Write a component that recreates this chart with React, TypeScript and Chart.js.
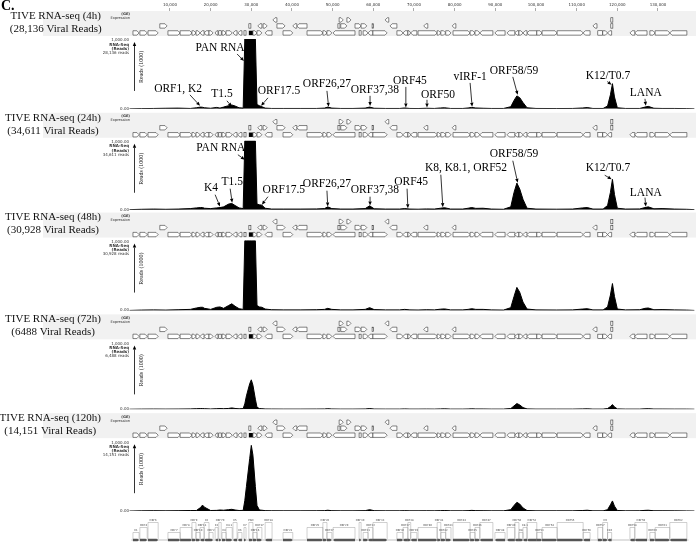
import React, { useEffect, useRef } from 'react';
import { Chart, registerables } from 'chart.js';

Chart.register(...registerables);

// ---------- data ----------
const GENOME_MAX = 139000;
const X_TICKS = [10000, 20000, 30000, 40000, 50000, 60000, 70000, 80000, 90000, 100000, 110000, 120000, 130000];

// genome positions (kb) shared by all coverage tracks
const POS_KB = [
  0, 3, 6, 9, 12, 15, 16.5, 17.5, 18.0, 18.5,
  20, 21.5, 22.3, 23.2, 24.4, 25.2, 26.0, 27.0, 28.0, 28.4,
  28.8, 29.6, 30.0, 30.4, 31.0, 31.4, 32.0, 32.6, 33.4, 35,
  38, 42, 46, 48.0, 48.8, 49.8, 52, 55, 58.0, 59.1,
  60.2, 63, 66.5, 67.7, 69, 71, 73.1, 75, 76.5, 77.5,
  79, 82, 83.3, 84.2, 85.2, 87, 89, 92, 93.8, 94.6,
  95.3, 96.0, 96.8, 97.8, 100, 105, 109, 111.5, 112.6, 114,
  116.5, 117.6, 118.3, 118.8, 119.3, 120.0, 122, 125.5, 126.8, 127.6,
  129, 131, 134, 137, 139,
];

// reads (display capped at 1,000)
const READS_4H = [
  0, 3, 5, 8, 10, 5, 15, 25, 22, 15,
  8, 20, 10, 25, 45, 55, 40, 15, 10, 1000,
  1000, 1000, 1000, 1000, 1000, 60, 45, 30, 10, 5,
  5, 5, 5, 10, 25, 10, 5, 5, 10, 25,
  8, 5, 5, 12, 5, 4, 8, 5, 12, 15,
  5, 5, 12, 20, 12, 8, 5, 5, 30, 120,
  185, 160, 90, 15, 5, 4, 5, 12, 18, 5,
  5, 40, 200, 360, 170, 15, 5, 5, 25, 35,
  8, 5, 5, 3, 0,
];
const READS_24H = [
  0, 5, 8, 5, 8, 15, 25, 30, 30, 20,
  15, 25, 30, 40, 80, 90, 60, 25, 15, 1000,
  1000, 1000, 1000, 1000, 1000, 80, 70, 65, 20, 8,
  8, 8, 10, 15, 40, 15, 8, 8, 15, 55,
  12, 8, 8, 15, 8, 6, 10, 8, 20, 28,
  8, 8, 20, 30, 18, 20, 8, 5, 40, 250,
  385, 300, 150, 20, 8, 6, 8, 25, 30, 8,
  8, 60, 250, 440, 220, 20, 8, 10, 30, 40,
  12, 15, 8, 5, 0,
];
const READS_48H = [
  0, 5, 8, 5, 10, 15, 35, 45, 45, 30,
  15, 45, 50, 30, 70, 95, 60, 25, 15, 1000,
  1000, 1000, 1000, 1000, 1000, 70, 50, 45, 20, 10,
  8, 8, 10, 15, 30, 15, 8, 8, 15, 40,
  12, 8, 8, 15, 8, 6, 10, 8, 18, 22,
  8, 8, 15, 25, 15, 15, 8, 5, 40, 200,
  330, 260, 120, 20, 8, 6, 8, 20, 25, 8,
  8, 50, 220, 385, 200, 20, 8, 10, 30, 35,
  10, 12, 8, 5, 0,
];
const READS_72H = [
  0, 2, 3, 2, 3, 5, 8, 10, 10, 8,
  4, 8, 10, 8, 12, 20, 12, 6, 10, 80,
  200, 380, 440, 360, 150, 30, 10, 8, 4, 3,
  2, 2, 3, 4, 8, 4, 2, 2, 4, 10,
  3, 2, 2, 5, 2, 2, 3, 2, 5, 6,
  2, 2, 4, 6, 4, 4, 2, 2, 10, 50,
  85, 65, 25, 5, 2, 2, 2, 5, 6, 2,
  2, 10, 40, 70, 35, 5, 2, 2, 6, 8,
  3, 3, 2, 2, 0,
];
const READS_120H = [
  0, 3, 5, 3, 5, 8, 8, 50, 85, 55,
  8, 10, 15, 12, 20, 25, 15, 8, 10, 150,
  350, 750, 940, 800, 350, 80, 15, 12, 6, 4,
  3, 3, 4, 6, 12, 5, 3, 3, 6, 20,
  5, 3, 3, 6, 3, 3, 4, 3, 6, 8,
  3, 3, 6, 10, 6, 5, 3, 3, 20, 80,
  125, 100, 45, 8, 3, 3, 3, 8, 12, 3,
  3, 20, 90, 145, 70, 8, 3, 4, 10, 12,
  4, 4, 3, 2, 0,
];

const PANEL_TITLES = ['TIVE RNA-seq (4h)', 'TIVE RNA-seq (24h)', 'TIVE RNA-seq (48h)', 'TIVE RNA-seq (72h)', 'TIVE RNA-seq (120h)'];
const PANEL_SUBTITLES = ['(28,136 Viral Reads)', '(34,611 Viral Reads)', '(30,928 Viral Reads)', '(6488 Viral Reads)', '(14,151 Viral Reads)'];
const PANEL_READS = ['28,136 reads', '34,611 reads', '30,928 reads', '6,488 reads', '14,151 reads'];
const PANEL_VALUES = [READS_4H, READS_24H, READS_48H, READS_72H, READS_120H];

// genes: [startKb, endKb, strand (1 fwd, -1 rev, 0 bar, 2 filled), row, name]
const GENES: [number, number, number, number, string][] = [
  [0.9, 2.4, 1, 0, 'K1'], [2.6, 4.4, 1, 0, 'ORF4'], [4.6, 7.1, 1, 0, 'ORF6'], [9.5, 12.5, 1, 0, 'ORF7'],
  [12.5, 15.4, 1, 0, 'ORF8'], [15.4, 16.4, 1, 0, 'ORF9'], [16.4, 17.4, 1, 0, 'ORF10'], [17.4, 18.4, -1, 0, 'ORF11'],
  [18.4, 19.6, -1, 0, 'K2'], [19.6, 20.6, 1, 0, 'ORF2'], [21.1, 21.8, -1, 0, 'K3'], [22.0, 22.6, 0, 0, 'ORF70'],
  [22.8, 23.8, 1, 0, 'K4'], [23.8, 25.3, 1, 0, 'K4.1'], [25.5, 26.5, -1, 0, 'K5'], [26.7, 27.7, -1, 0, 'K6'],
  [28.2, 28.7, 0, 0, 'K7'], [29.4, 30.4, 2, 0, 'PAN'], [30.4, 31.4, 1, 0, 'ORF16'], [31.4, 32.6, 1, 0, 'ORF17'],
  [33.4, 35.1, -1, 0, 'ORF18'], [37.8, 40.2, 1, 0, 'ORF21'], [43.7, 47.6, 1, 0, 'ORF25'], [47.6, 48.6, 1, 0, 'ORF26'],
  [48.6, 49.8, 1, 0, 'ORF27'], [50.1, 55.5, -1, 0, 'ORF29'], [56.5, 57.0, 0, 0, 'ORF30'], [57.5, 58.7, 1, 0, 'ORF31'],
  [58.7, 59.9, -1, 0, 'ORF32'], [59.9, 63.4, 1, 0, 'ORF33'], [65.8, 67.3, 1, 0, 'ORF36'], [67.3, 68.5, -1, 0, 'ORF37'],
  [68.5, 69.2, 1, 0, 'ORF38'], [69.2, 70.7, -1, 0, 'ORF39'], [71.0, 75.7, 1, 0, 'ORF40'], [75.7, 76.6, 1, 0, 'ORF41'],
  [76.6, 77.8, 1, 0, 'ORF42'], [77.8, 79.1, 1, 0, 'ORF43'], [79.6, 83.8, 1, 0, 'ORF44'], [83.8, 85.0, 1, 0, 'ORF45'],
  [85.0, 86.2, 1, 0, 'ORF46'], [86.2, 89.4, -1, 0, 'ORF47'], [89.9, 92.4, -1, 0, 'ORF48'], [92.9, 94.8, -1, 0, 'ORF49'],
  [94.8, 95.8, -1, 0, 'ORF50'], [95.8, 96.8, 1, 0, 'K8'], [96.8, 97.8, -1, 0, 'K8.1'], [97.8, 100.2, -1, 0, 'ORF52'],
  [100.2, 101.5, 1, 0, 'ORF53'], [101.5, 105.2, 1, 0, 'ORF54'], [105.2, 111.6, 1, 0, 'ORF55'], [111.6, 113.3, -1, 0, 'ORF56'],
  [115.2, 116.4, 0, 0, 'ORF57'], [116.4, 117.6, 1, 0, 'K9'], [117.6, 118.6, -1, 0, 'K10'], [123.1, 124.3, -1, 0, 'ORF58'],
  [124.3, 127.3, -1, 0, 'ORF59'], [128.0, 129.3, 1, 0, 'ORF60'], [129.3, 132.9, 1, 0, 'ORF61'], [132.9, 137.1, -1, 0, 'ORF62'],
  [7.5, 9.3, 1, 1, ''], [29.4, 29.9, 0, 1, ''], [31.6, 32.6, -1, 1, ''], [32.9, 33.9, 1, 1, ''], [36.3, 38.3, 1, 1, ''],
  [40.2, 41.2, -1, 1, ''], [41.2, 43.7, -1, 1, ''], [51.3, 51.8, 0, 1, ''], [52.0, 53.5, 1, 1, ''], [55.5, 57.0, 1, 1, ''],
  [57.0, 58.4, 1, 1, ''], [59.7, 60.0, 0, 1, ''], [64.1, 65.8, -1, 1, ''], [72.4, 73.4, -1, 1, ''], [79.4, 80.3, -1, 1, ''],
  [114.0, 115.0, -1, 1, ''], [118.4, 118.9, 0, 1, ''],
  [35.3, 36.3, -1, 2, ''], [51.6, 52.6, 1, 2, ''], [53.5, 54.5, 1, 2, ''], [62.9, 63.8, -1, 2, ''], [118.4, 118.9, 0, 2, ''],
];

// annotations: [text, textKb, textValue, tailKb, tailValue, headKb, headValue]
const ANNOT_4H: [string, number, number, number, number, number, number][] = [
  ['PAN RNA', 22.3, 870, 26.5, 785, 28.2, 685],
  ['ORF1, K2', 12.0, 285, 14.9, 200, 17.4, 43],
  ['T1.5', 22.8, 215, 24.0, 115, 25.2, 30],
  ['ORF17.5', 36.8, 257, 34.1, 157, 32.4, 43],
  ['ORF26,27', 48.6, 357, 48.6, 257, 49.0, 29],
  ['ORF37,38', 60.4, 271, 59.2, 186, 59.2, 40],
  ['ORF45', 69.0, 400, 68.0, 314, 68.0, 20],
  ['ORF50', 75.9, 200, 73.2, 129, 73.2, 20],
  ['vIRF-1', 83.8, 457, 83.8, 371, 84.3, 30],
  ['ORF58/59', 94.6, 543, 94.3, 457, 95.5, 200],
  ['K12/T0.7', 117.7, 471, 117.5, 390, 118.6, 345],
  ['LANA', 127.0, 229, 126.8, 143, 127.0, 45],
];
const ANNOT_24H: [string, number, number, number, number, number, number][] = [
  ['PAN RNA', 22.5, 898, 26.7, 797, 28.4, 725],
  ['K4', 20.1, 319, 21.1, 217, 22.3, 45],
  ['T1.5', 25.3, 406, 24.8, 304, 25.3, 100],
  ['ORF17.5', 38.0, 290, 34.1, 188, 32.6, 72],
  ['ORF26,27', 48.6, 377, 48.6, 275, 48.8, 45],
  ['ORF37,38', 60.4, 290, 59.2, 188, 59.2, 60],
  ['ORF45', 69.3, 406, 68.3, 304, 68.5, 20],
  ['K8, K8.1, ORF52', 82.8, 609, 76.6, 507, 77.1, 35],
  ['ORF58/59', 94.6, 811, 94.3, 710, 95.5, 391],
  ['K12/T0.7', 117.7, 609, 116.9, 500, 118.6, 440],
  ['LANA', 127.0, 246, 126.8, 174, 127.0, 45],
];

// stacked vertical layout, top to bottom: [axis id, weight]
const STACK: [string, number][] = [
  ['b1', 28], ['p1', 70], ['b2', 32], ['p2', 69], ['b3', 31], ['p3', 70],
  ['b4', 32], ['p4', 67], ['b5', 32], ['p5', 70], ['bm', 33],
];

// ---------- drawing helpers ----------
const SERIF = '"Liberation Serif", "DejaVu Serif", serif';
const SANS = '"DejaVu Sans", sans-serif';

function arrow(ctx: CanvasRenderingContext2D, x1: number, y1: number, x2: number, y2: number) {
  const ang = Math.atan2(y2 - y1, x2 - x1);
  const hl = 4, hw = 1.7;
  const bx = x2 - hl * Math.cos(ang), by = y2 - hl * Math.sin(ang);
  ctx.strokeStyle = '#000';
  ctx.lineWidth = 0.8;
  ctx.beginPath();
  ctx.moveTo(x1, y1);
  ctx.lineTo(bx, by);
  ctx.stroke();
  ctx.fillStyle = '#000';
  ctx.beginPath();
  ctx.moveTo(x2, y2);
  ctx.lineTo(bx + hw * Math.sin(ang), by - hw * Math.cos(ang));
  ctx.lineTo(bx - hw * Math.sin(ang), by + hw * Math.cos(ang));
  ctx.closePath();
  ctx.fill();
}

function geneGlyph(ctx: CanvasRenderingContext2D, x1: number, x2: number, yc: number, strand: number, h: number) {
  const top = yc - h / 2;
  const w = x2 - x1;
  ctx.lineWidth = 0.6;
  ctx.strokeStyle = '#333';
  if (strand === 2) {
    ctx.fillStyle = '#000';
    ctx.fillRect(x1, top, w, h);
    return;
  }
  if (strand === 0 || w < 1.5) {
    ctx.fillStyle = '#fff';
    ctx.fillRect(x1, top, Math.max(w, 1.2), h);
    ctx.strokeRect(x1, top, Math.max(w, 1.2), h);
    return;
  }
  const a = Math.min(2.2, w * 0.6);
  ctx.fillStyle = '#fff';
  ctx.beginPath();
  if (strand === 1) {
    ctx.moveTo(x1, top);
    ctx.lineTo(x2 - a, top);
    ctx.lineTo(x2, yc);
    ctx.lineTo(x2 - a, top + h);
    ctx.lineTo(x1, top + h);
  } else {
    ctx.moveTo(x2, top);
    ctx.lineTo(x1 + a, top);
    ctx.lineTo(x1, yc);
    ctx.lineTo(x1 + a, top + h);
    ctx.lineTo(x2, top + h);
  }
  ctx.closePath();
  ctx.fill();
  ctx.stroke();
}

const decorPlugin = {
  id: 'decor',
  beforeDraw(chart: any) {
    const ctx: CanvasRenderingContext2D = chart.ctx;
    ctx.save();
    for (let i = 1; i <= 5; i++) {
      const p = chart.scales['p' + i];
      ctx.fillStyle = '#f1f1f1';
      ctx.fillRect(43, p.top - 28, 696 - 43, 25);
    }
    ctx.restore();
  },
  afterDraw(chart: any) {
    const ctx: CanvasRenderingContext2D = chart.ctx;
    const xs = chart.scales.x;
    const px = (kb: number) => xs.getPixelForValue(kb * 1000);
    ctx.save();

    // panel label
    ctx.fillStyle = '#000';
    ctx.font = `bold 14px ${SERIF}`;
    ctx.textAlign = 'left';
    ctx.textBaseline = 'middle';
    ctx.fillText('C.', 1, 6);

    for (let i = 0; i < 5; i++) {
      const p = chart.scales['p' + (i + 1)];
      // gene track
      const rowY = [p.top - 6, p.top - 13, p.top - 19];
      for (const [s, e, strand, row] of GENES) {
        geneGlyph(ctx, px(s), px(e), rowY[row], strand, 4.4);
      }
      // titles
      ctx.fillStyle = '#111';
      ctx.font = `11px ${SERIF}`;
      ctx.textBaseline = 'middle';
      ctx.textAlign = 'right';
      const w1 = ctx.measureText(PANEL_TITLES[i]).width;
      ctx.fillText(PANEL_TITLES[i], 101, p.top - 23);
      ctx.textAlign = 'center';
      ctx.fillText(PANEL_SUBTITLES[i], 101 - w1 / 2, p.top - 10);
      ctx.textAlign = 'right';
      ctx.font = `bold 3.6px ${SANS}`;
      ctx.fillStyle = '#333';
      ctx.fillText('(GE)', 130, p.top - 24.5);
      ctx.font = `3.6px ${SANS}`;
      ctx.fillText('Expression', 130, p.top - 20.5);
      // left value labels
      ctx.font = `4px ${SANS}`;
      ctx.fillText('1,000.00', 129, p.top + 1.5);
      ctx.font = `bold 4px ${SANS}`;
      ctx.fillText('RNA-Seq', 129, p.top + 5.6);
      ctx.fillText('(Reads)', 129, p.top + 9.7);
      ctx.font = `4px ${SANS}`;
      ctx.fillText(PANEL_READS[i], 129, p.top + 13.8);
      ctx.fillText('0.00', 129, p.bottom);
      // reads arrow
      arrow(ctx, 134.5, p.top + 52, 134.5, p.top + 3);
      ctx.save();
      ctx.translate(141.5, p.top + 28);
      ctx.rotate(-Math.PI / 2);
      ctx.font = `6px ${SERIF}`;
      ctx.fillStyle = '#111';
      ctx.textAlign = 'center';
      ctx.textBaseline = 'middle';
      ctx.fillText('Reads (1000)', 0, 0);
      ctx.restore();
    }

    // peak annotations
    const annots = [ANNOT_4H, ANNOT_24H];
    annots.forEach((list, i) => {
      const p = chart.scales['p' + (i + 1)];
      for (const [t, tk, tv, ak, av, hk, hv] of list) {
        ctx.font = `11.5px ${SERIF}`;
        ctx.fillStyle = '#000';
        ctx.textAlign = 'center';
        ctx.textBaseline = 'middle';
        ctx.fillText(t, px(tk), p.getPixelForValue(tv));
        arrow(ctx, px(ak), p.getPixelForValue(av), px(hk), p.getPixelForValue(hv));
      }
    });

    // bottom gene map
    const bm = chart.scales.bm;
    const yBar = bm.bottom - 4;
    ctx.strokeStyle = '#999';
    ctx.lineWidth = 0.6;
    ctx.beginPath();
    ctx.moveTo(px(0.5), yBar);
    ctx.lineTo(px(137.5), yBar);
    ctx.stroke();
    let k = 0;
    for (const [s, e, strand, row, name] of GENES) {
      if (row !== 0) continue;
      const x1 = px(s), x2 = px(e);
      const level = k % 3;
      k++;
      const ly = yBar - 9 - level * 5;
      ctx.strokeStyle = '#888';
      ctx.lineWidth = 0.4;
      ctx.beginPath();
      ctx.moveTo(x1, yBar - 1);
      ctx.lineTo(x1, ly + 1.5);
      ctx.lineTo(x2, ly + 1.5);
      ctx.lineTo(x2, yBar - 1);
      ctx.stroke();
      ctx.fillStyle = '#444';
      ctx.font = `2.6px ${SANS}`;
      ctx.textAlign = 'center';
      ctx.textBaseline = 'bottom';
      ctx.fillText(name, (x1 + x2) / 2, ly + 1);
      ctx.fillStyle = '#555';
      ctx.beginPath();
      const a = Math.min(1.5, (x2 - x1) / 2);
      if (strand === -1) {
        ctx.moveTo(x2, yBar - 1.2); ctx.lineTo(x1 + a, yBar - 1.2); ctx.lineTo(x1, yBar);
        ctx.lineTo(x1 + a, yBar + 1.2); ctx.lineTo(x2, yBar + 1.2);
      } else {
        ctx.moveTo(x1, yBar - 1.2); ctx.lineTo(x2 - a, yBar - 1.2); ctx.lineTo(x2, yBar);
        ctx.lineTo(x2 - a, yBar + 1.2); ctx.lineTo(x1, yBar + 1.2);
      }
      ctx.closePath();
      ctx.fill();
    }
    ctx.restore();
  },
};

export default function App() {
  const ref = useRef<HTMLCanvasElement>(null);
  useEffect(() => {
    const scales: any = {
      x: {
        type: 'linear',
        position: 'top',
        min: 0,
        max: GENOME_MAX,
        bounds: 'data',
        afterBuildTicks: (s: any) => {
          s.ticks = X_TICKS.map((v) => ({ value: v }));
        },
        ticks: {
          callback: (v: any) => Number(v).toLocaleString('en-US'),
          font: { size: 4, family: 'DejaVu Sans' },
          color: '#333',
          padding: 1,
          maxRotation: 0,
          autoSkip: false,
        },
        grid: { drawOnChartArea: false, drawTicks: true, tickLength: 3, color: '#555', lineWidth: 0.5 },
        border: { display: false },
      },
    };
    // Chart.js stacks left axes bottom-up, so register them in reverse order
    for (const [id, w] of [...STACK].reverse()) {
      scales[id] = {
        type: 'linear',
        axis: 'y',
        position: 'left',
        stack: 'v',
        stackWeight: w,
        min: 0,
        max: id.startsWith('p') ? 1000 : 1,
        display: false,
      };
    }
    const datasets = PANEL_VALUES.map((vals, i) => ({
      type: 'line' as const,
      data: POS_KB.map((kb, j) => ({ x: kb * 1000, y: vals[j] })),
      xAxisID: 'x',
      yAxisID: 'p' + (i + 1),
      borderColor: '#000',
      backgroundColor: '#000',
      borderWidth: 1,
      pointRadius: 0,
      fill: 'origin',
      tension: 0,
    }));
    const chart = new Chart(ref.current as HTMLCanvasElement, {
      type: 'line',
      data: { datasets },
      options: {
        animation: false,
        responsive: true,
        maintainAspectRatio: false,
        events: [],
        layout: { padding: { left: 129.3, right: 1.4, top: 1.2, bottom: 0 } },
        plugins: { legend: { display: false }, tooltip: { enabled: false } },
        scales,
      } as any,
      plugins: [decorPlugin],
    });
    return () => chart.destroy();
  }, []);
  return (
    <div style={{ position: 'fixed', left: 0, top: 0, width: 696, height: 544, background: '#fff' }}>
      <canvas ref={ref} />
    </div>
  );
}
